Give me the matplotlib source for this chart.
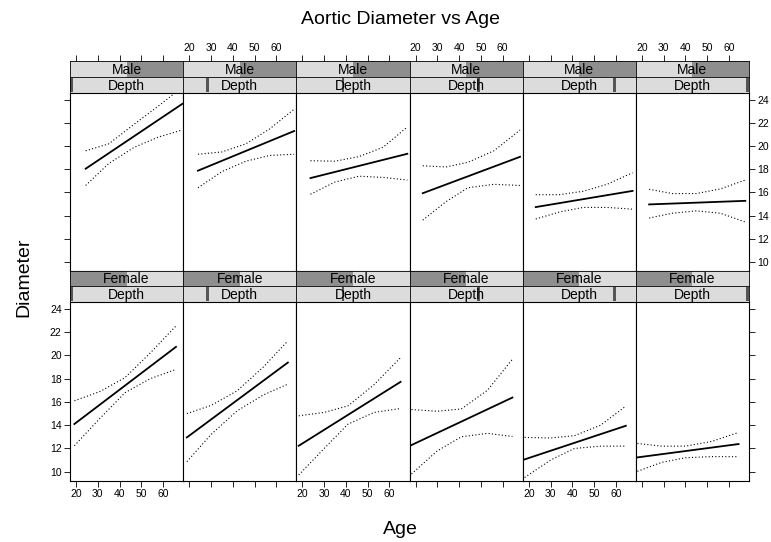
import matplotlib
matplotlib.use("Agg")
import matplotlib.pyplot as plt
from matplotlib.patches import Rectangle

plt.rcParams['font.family'] = ['Liberation Sans', 'DejaVu Sans']

# panel labels
sexes = ["Male", "Female"]
depth_label = "Depth"
depth_levels = [0, 1, 2, 3, 4, 5]
age_ticks = [20, 30, 40, 50, 60]
diam_ticks = [10, 12, 14, 16, 18, 20, 22, 24]

# Male row (top): ages, fitted line ends, upper/lower bands
male_ages = [[24.4, 35, 46.7, 58, 68.8],
             [24.0, 35, 46, 57, 68.2],
             [23.7, 35, 46, 57, 68.2],
             [23.3, 34, 44, 56, 68.0],
             [23.2, 34, 45, 56, 67.7],
             [23.3, 34, 45, 56, 67.5]]
male_fit = [[18.05, 23.66], [17.88, 21.31], [17.24, 19.34],
            [15.93, 19.08], [14.73, 16.13], [14.96, 15.27]]
male_upper = [[19.6, 20.2, 21.9, 23.5, 25.1],
              [19.3, 19.5, 20.2, 21.5, 23.2],
              [18.74, 18.7, 19.1, 19.9, 21.66],
              [18.3, 18.2, 18.6, 19.6, 21.4],
              [15.8, 15.8, 16.1, 16.7, 17.7],
              [16.27, 15.9, 15.9, 16.3, 17.07]]
male_lower = [[16.6, 18.5, 19.9, 20.8, 21.4],
              [16.4, 17.8, 18.7, 19.2, 19.3],
              [15.84, 16.9, 17.4, 17.3, 17.07],
              [13.6, 15.2, 16.4, 16.7, 16.6],
              [13.7, 14.3, 14.7, 14.7, 14.55],
              [13.78, 14.2, 14.4, 14.2, 13.44]]

# Female row (bottom)
female_ages = [[19.2, 31, 42.5, 54, 65.9],
               [18.9, 30, 42, 54, 65.3],
               [18.3, 30, 41, 53, 65.1],
               [18.1, 30, 41, 53, 64.5],
               [18.1, 30, 41, 53, 64.6],
               [17.9, 29, 40, 52, 64.4]]
female_fit = [[14.1, 20.74], [12.95, 19.39], [12.23, 17.73],
              [12.29, 16.38], [11.06, 13.95], [11.23, 12.38]]
female_upper = [[16.1, 16.9, 18.1, 20.2, 22.54],
                [15.0, 15.7, 16.96, 19.0, 21.25],
                [14.81, 15.1, 15.67, 17.5, 19.82],
                [15.35, 15.2, 15.4, 17.0, 19.68],
                [12.95, 12.9, 13.1, 14.0, 15.64],
                [12.43, 12.2, 12.2, 12.6, 13.38]]
female_lower = [[12.23, 14.6, 16.8, 18.0, 18.8],
                [10.86, 13.2, 15.24, 16.6, 17.53],
                [9.72, 12.0, 14.1, 15.1, 15.44],
                [9.8, 11.8, 13.0, 13.3, 13.03],
                [9.5, 11.0, 12.0, 12.2, 12.2],
                [10.03, 10.8, 11.2, 11.3, 11.29]]

rows = [(male_ages, male_fit, male_upper, male_lower),
        (female_ages, female_fit, female_upper, female_lower)]

W, H = 771, 542
fig = plt.figure(figsize=(W / 100, H / 100), dpi=100)


def px_axes(x0, y0, x1, y1):
    return fig.add_axes([x0 / W, 1 - y1 / H, (x1 - x0) / W, (y1 - y0) / H])


left0, right0 = 70, 749
colw = (right0 - left0) / 6
# (strip1 top, strip2 top, panel top, panel bottom)
row_y = [(61, 77, 93, 271), (271, 286, 302, 481)]
xlim = (17.2, 69.2)
ylim = (9.2, 24.6)
light = '#dcdcdc'
dark = '#8e8e8e'
tick_kw = dict(direction='out', length=4, width=0.6, labelsize=7.5, pad=2)

for r in range(2):
    ages, fit, upper, lower = rows[r]
    s1, s2, pt, pb = row_y[r]
    for c in range(6):
        x0 = left0 + c * colw
        x1 = x0 + colw

        # sex strip
        sa = px_axes(x0, s1, x1, s2)
        sa.set_xlim(xlim)
        sa.set_ylim(0, 1)
        sa.add_patch(Rectangle((0, 0), 1, 1, transform=sa.transAxes,
                               facecolor=light, edgecolor='none'))
        dx = 0.5 if r == 0 else 0.0
        sa.add_patch(Rectangle((dx, 0), 0.5, 1, transform=sa.transAxes,
                               facecolor=dark, edgecolor='none'))
        sa.text(0.5, 0.45, sexes[r], transform=sa.transAxes, ha='center',
                va='center', fontsize=10)
        for sp in sa.spines.values():
            sp.set_linewidth(0.6)
        sa.set_yticks([])
        if r == 0:
            sa.xaxis.tick_top()
            sa.set_xticks(age_ticks)
            sa.tick_params(axis='x', **tick_kw)
            if c % 2 == 1:
                sa.set_xticklabels([str(t) for t in age_ticks])
            else:
                sa.set_xticklabels([])
        else:
            sa.set_xticks([])

        # depth strip
        da = px_axes(x0, s2, x1, pt)
        da.set_xlim(0, 1)
        da.set_ylim(0, 1)
        da.add_patch(Rectangle((0, 0), 1, 1, facecolor=light, edgecolor='none'))
        pos = depth_levels[c] / 5
        da.add_patch(Rectangle((min(pos, 0.975), 0.05), 0.025, 0.9,
                               facecolor='#555555', edgecolor='none'))
        da.text(0.5, 0.45, depth_label, ha='center', va='center', fontsize=10)
        for sp in da.spines.values():
            sp.set_linewidth(0.6)
        da.set_xticks([])
        da.set_yticks([])

        # data panel
        ax = px_axes(x0, pt, x1, pb)
        ax.set_xlim(xlim)
        ax.set_ylim(ylim)
        a = ages[c]
        ax.plot([a[0], a[-1]], fit[c], color='black', lw=1.3)
        ax.plot(a, upper[c], color='black', lw=0.8, ls=(0, (1, 2)))
        ax.plot(a, lower[c], color='black', lw=0.8, ls=(0, (1, 2)))
        for sp in ax.spines.values():
            sp.set_linewidth(0.8)

        ax.tick_params(**tick_kw)
        if r == 1:
            ax.set_xticks(age_ticks)
            if c % 2 == 0:
                ax.set_xticklabels([str(t) for t in age_ticks])
            else:
                ax.set_xticklabels([])
        else:
            ax.set_xticks([])

        ax.set_yticks(diam_ticks)
        if c == 0:
            ax.yaxis.set_ticks_position('left')
            if r == 1:
                ax.set_yticklabels([str(t) for t in diam_ticks])
            else:
                ax.set_yticklabels([])
        elif c == 5:
            ax.yaxis.set_ticks_position('right')
            if r == 0:
                ax.set_yticklabels([str(t) for t in diam_ticks])
            else:
                ax.set_yticklabels([])
        else:
            ax.set_yticks([])

fig.text(400 / W, 1 - 20 / H, "Aortic Diameter vs Age", ha='center',
         va='center', fontsize=14)
fig.text(400 / W, 1 - 530 / H, "Age", ha='center', va='center', fontsize=14)
fig.text(24 / W, 1 - 277 / H, "Diameter", ha='center', va='center',
         rotation=90, fontsize=14)

fig.savefig("out.png", dpi=100)
